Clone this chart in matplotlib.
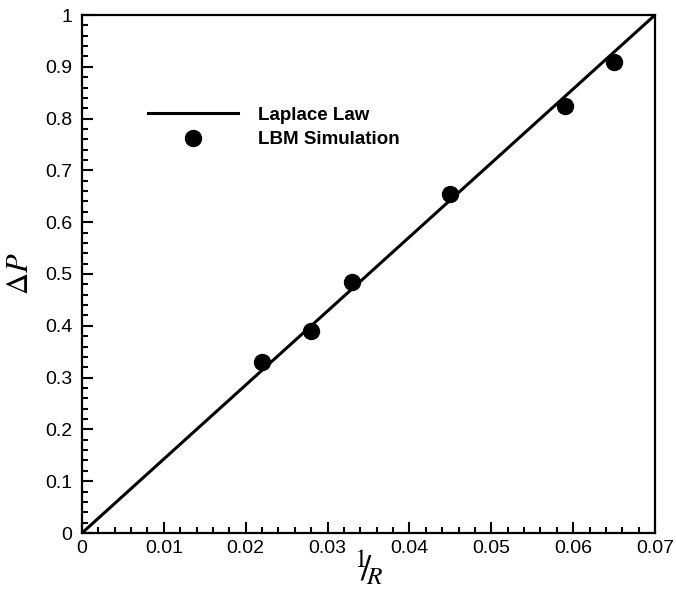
import matplotlib
matplotlib.use("Agg")
import matplotlib.pyplot as plt
import numpy as np

# Data
law_x = [0.0, 0.07]
law_y = [0.0, 1.0]
sim_x = [0.022, 0.028, 0.033, 0.045, 0.059, 0.065]
sim_y = [0.33, 0.39, 0.485, 0.655, 0.825, 0.91]
xticks = [0, 0.01, 0.02, 0.03, 0.04, 0.05, 0.06, 0.07]
yticks = [0, 0.1, 0.2, 0.3, 0.4, 0.5, 0.6, 0.7, 0.8, 0.9, 1]

plt.rcParams['font.family'] = ['Liberation Sans', 'DejaVu Sans']
plt.rcParams['mathtext.fontset'] = 'stix'

fig = plt.figure(figsize=(6.76, 5.92), dpi=100)
ax = fig.add_axes([82/676, 59/592, 573/676, 518/592])

ax.plot(law_x, law_y, color='black', lw=2.2, label='Laplace Law')
ax.plot(sim_x, sim_y, 'o', color='black', ms=11.5, label='LBM Simulation')

ax.set_xlim(0, 0.07)
ax.set_ylim(0, 1)
ax.set_xticks(xticks)
ax.set_xticklabels(['0', '0.01', '0.02', '0.03', '0.04', '0.05', '0.06', '0.07'])
ax.set_yticks(yticks)
ax.set_yticklabels(['0', '0.1', '0.2', '0.3', '0.4', '0.5', '0.6', '0.7', '0.8', '0.9', '1'])
ax.xaxis.set_minor_locator(matplotlib.ticker.MultipleLocator(0.002))
ax.yaxis.set_minor_locator(matplotlib.ticker.MultipleLocator(0.02))
ax.tick_params(which='both', direction='in', top=False, right=False,
               labelsize=14, width=1.5, colors='black')
ax.tick_params(which='major', length=8)
ax.tick_params(axis='x', which='major', pad=5)
ax.tick_params(axis='y', which='major', pad=7)
ax.tick_params(which='minor', length=4)
for s in ax.spines.values():
    s.set_linewidth(1.6)

ax.set_ylabel(r'$\Delta P$', fontsize=22, labelpad=7)
ax.set_xlabel(r'$^{1}\!\!/\!_{R}$', fontsize=26, labelpad=-6)

leg = ax.legend(loc='upper left', bbox_to_anchor=(139/676, 1-97/592),
                bbox_transform=fig.transFigure, frameon=False,
                handlelength=4.8, handletextpad=1.07, labelspacing=0.4,
                borderpad=0, prop={'weight': 'bold', 'size': 13.5})

fig.savefig('out.png', dpi=100)
